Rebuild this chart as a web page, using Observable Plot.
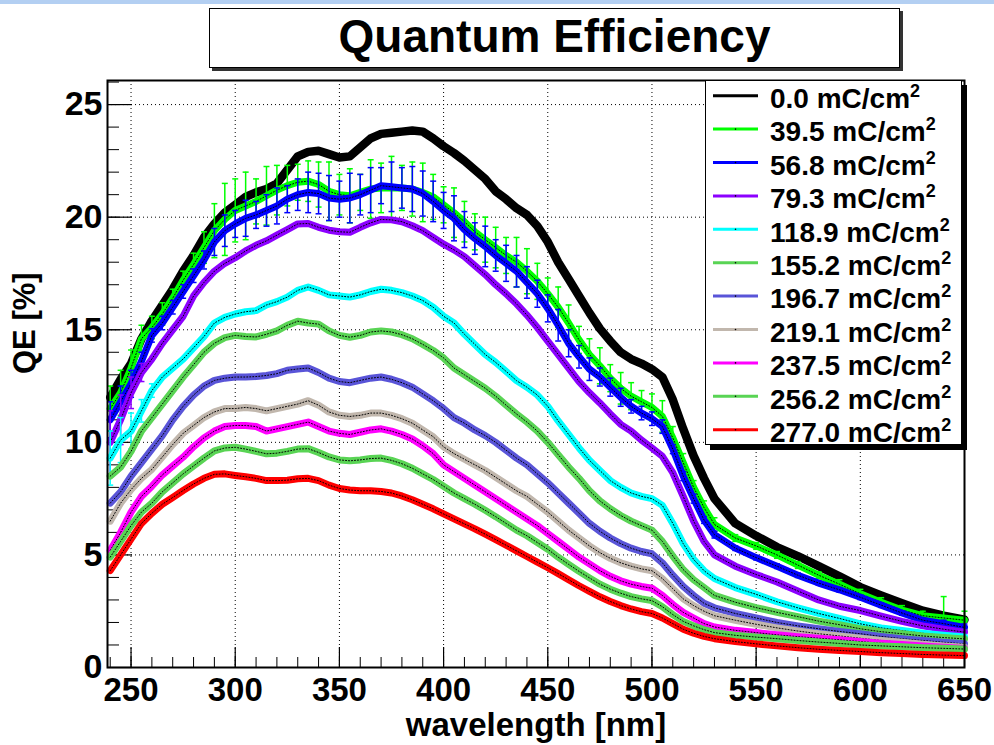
<!DOCTYPE html>
<html><head><meta charset="utf-8">
<script src="https://cdn.jsdelivr.net/npm/d3@7"></script>
<script src="https://cdn.jsdelivr.net/npm/@observablehq/plot@0.6"></script>
<style>
body{margin:0;background:#fff;font-family:"Liberation Sans",Arial,sans-serif;}
#wrap{position:relative;width:994px;height:745px;overflow:hidden;background:#fff;}
#topbar{position:absolute;left:0;top:0;width:994px;height:4px;background:#b3cff2;}
#title{position:absolute;left:209px;top:8px;width:689px;height:58px;border:1px solid #000;box-shadow:3px 3px 0 #333;background:#fff;text-align:center;font-weight:bold;font-size:46px;line-height:54px;color:#000;}
</style></head>
<body><div id="wrap"><div id="topbar"></div></div>
<script>
// wavelength grid [nm]
const wl = [240,245,250,255,260,265,270,275,280,285,290,295,300,305,310,315,320,325,330,335,340,345,350,355,360,365,370,375,380,385,390,395,400,405,410,415,420,425,430,435,440,445,450,455,460,465,470,475,480,485,490,495,500,505,510,515,520,525,530,540,550,560,570,580,590,600,610,620,630,640,650];

const qe000 = [12.0,12.8,13.5,14.6,15.4,16.1,16.8,17.6,18.3,19.1, 19.7,20.2,20.55,20.9,21.1,21.25,21.5,22.1,22.7,22.9, 22.95,22.8,22.65,22.7,23.1,23.5,23.7,23.75,23.8,23.85, 23.8,23.5,23.15,22.85,22.5,22.1,21.7,21.15,20.8,20.4, 20.1,19.6,18.9,18.0,17.25,16.5,15.75,15.05,14.5,14.0, 13.7,13.5,13.25,12.9,11.9,10.6,9.4,8.4,7.5, 6.4,5.85,5.35,4.95,4.5,4.05,3.57,3.2,2.85,2.52,2.3,2.12];
const qe395 = [11.5,12.2,13.3,14.6,15.1,15.7,16.4,17.2,17.9,18.65, 19.4,19.9,20.3,20.5,20.7,20.95,21.2,21.4,21.55,21.6, 21.45,21.15,21.0,20.95,21.1,21.25,21.3,21.3,21.3,21.25, 21.1,20.9,20.55,20.2,19.8,19.35,19.0,18.65,18.3,18.0, 17.6,17.15,16.6,16.0,15.3,14.55,13.9,13.4,12.85,12.4, 12.05,11.8,11.55,11.15,10.2,9.1,8.0,7.1,6.35, 5.75,5.4,5.0,4.55,4.1,3.7,3.27,2.9,2.55,2.3,2.2,2.1];
const qe568 = [11.0,11.8,12.6,13.6,14.75,15.3,16.0,16.7,17.4,18.1, 18.9,19.4,19.7,19.95,20.1,20.3,20.5,20.8,21.0,21.1, 21.05,20.85,20.8,20.85,21.0,21.2,21.4,21.35,21.3,21.25, 21.05,20.7,20.3,19.95,19.45,19.05,18.7,18.3,17.95,17.6, 17.1,16.6,15.95,15.2,14.4,13.8,13.25,12.9,12.45,12.0, 11.6,11.3,11.05,10.7,9.7,8.5,7.5,6.55,5.9, 5.3,4.88,4.5,4.1,3.75,3.45,3.12,2.77,2.42,2.1,1.95,1.78];
const qe793 = [10.0,11.0,12.2,13.1,13.7,14.4,15.0,15.6,16.5,17.1, 17.6,17.95,18.2,18.5,18.75,18.95,19.2,19.45,19.7,19.72, 19.55,19.42,19.35,19.33,19.55,19.75,19.9,19.88,19.8,19.62, 19.4,19.1,18.8,18.55,18.25,17.85,17.45,17.0,16.6,16.15, 15.65,15.1,14.5,13.9,13.3,12.7,12.2,11.75,11.26,10.8, 10.5,10.1,9.75,9.38,8.65,7.6,6.5,5.6,5.0, 4.5,4.13,3.8,3.4,3.0,2.72,2.53,2.28,2.05,1.85,1.7,1.57];
const qe1189 = [9.3,10.1,10.5,11.4,12.3,12.9,13.3,13.7,14.2,14.7, 15.3,15.55,15.7,15.8,15.85,16.1,16.25,16.45,16.75,16.9, 16.75,16.55,16.5,16.45,16.55,16.7,16.8,16.75,16.65,16.5, 16.3,16.0,15.6,15.3,14.8,14.35,13.9,13.55,13.15,12.74, 12.45,12.1,11.6,10.95,10.35,9.75,9.2,8.75,8.3,8.0, 7.75,7.6,7.5,7.2,6.4,5.5,4.8,4.3,3.95, 3.55,3.25,2.92,2.65,2.4,2.18,1.94,1.76,1.64,1.52,1.43,1.35];
const qe1552 = [8.5,8.9,9.6,10.5,11.1,11.7,12.3,12.9,13.45,14.0, 14.4,14.65,14.75,14.7,14.68,14.8,14.95,15.2,15.38,15.3, 15.25,14.95,14.75,14.67,14.75,14.9,14.95,14.9,14.78,14.6, 14.35,14.08,13.75,13.3,13.0,12.7,12.4,12.05,11.65,11.26, 10.9,10.5,10.0,9.45,8.9,8.4,7.85,7.4,7.05,6.75, 6.5,6.3,6.1,5.6,4.95,4.35,3.9,3.55,3.2, 2.9,2.66,2.45,2.26,2.06,1.9,1.72,1.59,1.5,1.4,1.33,1.27];
const qe1967 = [7.3,7.8,8.5,9.1,9.7,10.3,11.0,11.6,12.1,12.5, 12.75,12.85,12.9,12.9,12.92,12.97,13.05,13.2,13.26,13.3, 13.1,12.85,12.7,12.65,12.75,12.85,12.9,12.8,12.65,12.45, 12.15,11.85,11.5,11.1,10.85,10.55,10.3,10.0,9.65,9.3, 9.0,8.6,8.2,7.75,7.3,6.85,6.4,6.05,5.75,5.5, 5.3,5.15,5.05,4.65,4.1,3.6,3.2,2.85,2.65, 2.4,2.2,2.0,1.85,1.72,1.6,1.5,1.38,1.28,1.2,1.12,1.05];
const qe2191 = [6.5,7.3,7.9,8.4,8.8,9.35,9.9,10.4,10.75,11.1, 11.35,11.5,11.5,11.55,11.5,11.4,11.5,11.6,11.7,11.85, 11.65,11.35,11.2,11.15,11.2,11.3,11.3,11.2,11.05,10.85, 10.55,10.25,9.8,9.5,9.25,9.0,8.75,8.45,8.15,7.85, 7.6,7.25,6.9,6.5,6.1,5.75,5.4,5.1,4.85,4.65, 4.5,4.38,4.3,3.95,3.5,3.05,2.75,2.5,2.3, 2.1,1.92,1.76,1.62,1.5,1.4,1.3,1.2,1.12,1.03,0.96,0.9];
const qe2375 = [5.2,6.0,6.9,7.6,8.05,8.55,8.95,9.34,9.8,10.2, 10.5,10.7,10.75,10.75,10.7,10.5,10.6,10.7,10.8,10.9, 10.7,10.5,10.4,10.35,10.45,10.55,10.6,10.5,10.35,10.15, 9.85,9.5,9.0,8.7,8.4,8.1,7.8,7.5,7.2,6.9, 6.6,6.3,5.95,5.6,5.25,4.9,4.6,4.3,4.05,3.85, 3.7,3.6,3.52,3.2,2.8,2.45,2.2,1.95,1.8, 1.65,1.55,1.45,1.37,1.3,1.23,1.15,1.08,1.02,0.96,0.9,0.84];
const qe2562 = [4.9,5.6,6.3,6.9,7.3,7.8,8.2,8.6,8.95,9.3, 9.62,9.75,9.78,9.7,9.6,9.49,9.52,9.6,9.7,9.72, 9.55,9.35,9.22,9.18,9.22,9.28,9.3,9.2,9.05,8.85, 8.6,8.35,8.05,7.75,7.5,7.25,6.98,6.7,6.4,6.1, 5.85,5.55,5.25,4.9,4.58,4.27,3.98,3.7,3.48,3.3, 3.15,3.05,2.97,2.7,2.35,2.05,1.85,1.68,1.55, 1.43,1.35,1.28,1.2,1.13,1.07,1.0,0.96,0.92,0.88,0.85,0.82];
const qe2770 = [4.3,5.0,5.7,6.4,6.85,7.25,7.55,7.86,8.15,8.4, 8.58,8.6,8.53,8.47,8.4,8.3,8.3,8.32,8.38,8.4, 8.3,8.1,7.95,7.88,7.85,7.85,7.82,7.75,7.62,7.45, 7.25,7.05,6.82,6.6,6.38,6.16,5.92,5.68,5.43,5.18, 4.93,4.68,4.43,4.17,3.9,3.63,3.38,3.14,2.93,2.75, 2.6,2.48,2.4,2.2,1.95,1.7,1.52,1.38,1.28, 1.15,1.05,0.96,0.88,0.81,0.76,0.71,0.66,0.62,0.58,0.55,0.53];

// error bars (read where visible)
const err395 = [1.0,1.0,0.8,0.6,0.5,0.5,0.4,0.4,0.5,0.7, 1.2,1.6,1.4,1.5,1.0,1.3,1.1,0.9,0.8,0.9, 1.0,1.3,0.9,1.2,0.8,1.3,1.1,1.4,1.0,1.2, 1.3,1.0,0.8,1.1,0.9,0.8,1.0,0.9,0.8,1.1, 1.0,0.8,0.7,0.9,0.8,0.6,0.7,0.8,0.6,0.7, 0.6,0.5,0.6,0.7,0.5,0.4,0.3,0.3,0.3, 0.15,0.15,0.15,0.15,0.15,0.2,0.2,0.2,0.2,0.2,0.95,0.4];
const err568 = [0.8,0.7,0.6,0.4,0.3,0.3,0.3,0.3,0.3,0.4, 0.6,0.7,0.6,0.8,0.6,0.7,0.8,0.6,0.7,0.9, 0.9,1.0,0.8,1.1,0.9,1.0,0.8,1.1,0.9,1.0, 1.0,0.9,0.8,1.0,0.8,0.7,0.9,0.7,0.8,0.7, 0.7,0.6,0.6,0.7,0.6,0.5,0.5,0.4,0.4,0.4, 0.3,0.3,0.3,0.3,0.2,0.2,0.2,0.15,0.15, 0.1,0.1,0.1,0.1,0.1,0.1,0.1,0.1,0.1,0.1,0.15,0.15];
const err793 = [1.4,1.1,0.7,0.4,0,0,0,0,0,0, 0,0,0,0,0,0,0,0,0,0, 0,0,0,0,0,0,0,0,0,0, 0,0,0,0,0,0,0,0,0,0, 0,0,0,0,0,0,0,0,0,0, 0,0,0,0,0,0,0,0,0, 0,0,0,0,0,0,0,0,0,0,0,0];
const err1189 = [1.2,1.0,0.8,0.5,0.3,0,0,0,0,0, 0,0,0,0,0,0,0,0,0,0, 0,0,0,0,0,0,0,0,0,0, 0,0,0,0,0,0,0,0,0,0, 0,0,0,0,0,0,0,0,0,0, 0,0,0,0,0,0,0,0,0, 0,0,0,0,0,0,0,0,0,0,0,0];

const labels = ["0.0","39.5","56.8","79.3","118.9","155.2","196.7","219.1","237.5","256.2","277.0"];
const colors = ["#000000","#00ff00","#0000ff","#8c00ff","#00ffff","#59d454","#5954d8","#c1b7ad","#ff00ff","#59d454","#ff0000"];
const values = [qe000,qe395,qe568,qe793,qe1189,qe1552,qe1967,qe2191,qe2375,qe2562,qe2770];
const errors = [null,err395,err568,err793,err1189,null,null,null,null,null,null];

const xTicks = [250,300,350,400,450,500,550,600,650];
const xMinor = d3.range(240,651,10);
const yTicks = [0,5,10,15,20,25];
const yMinor = d3.range(0,27,1);
const xGrid = [250,300,350,400,450,500,550,600];
const yGrid = [5,10,15,20,25];

const W = 994, H = 745, mL = 107, mR = 30, mT = 80, mB = 78;
const fw = W - mL - mR, fh = H - mT - mB;

const cap = {draw(ctx, size){ const w = 3; ctx.moveTo(-w,0); ctx.lineTo(w,0); }};

const seriesMarks = [];
values.forEach((vals, k) => {
  const rows = wl.map((w, i) => ({w, v: vals[i], e: errors[k] ? errors[k][i] : 0}));
  seriesMarks.push(Plot.line(rows, {x: "w", y: "v", stroke: colors[k], strokeWidth: k === 0 ? 8.5 : 7, strokeLinejoin: "round"}));
  if (errors[k]) {
    const er = rows.filter(d => d.e > 0);
    seriesMarks.push(Plot.ruleX(er, {x: "w", y1: d => d.v - d.e, y2: d => d.v + d.e, stroke: colors[k], strokeWidth: 1.5}));
    seriesMarks.push(Plot.dot(er, {x: "w", y: d => d.v - d.e, symbol: cap, stroke: colors[k], strokeWidth: 1.5, r: 3}));
    seriesMarks.push(Plot.dot(er, {x: "w", y: d => d.v + d.e, symbol: cap, stroke: colors[k], strokeWidth: 1.5, r: 3}));
  }
  seriesMarks.push(Plot.line(rows, {x: "w", y: "v", stroke: "#000", strokeWidth: 1, strokeDasharray: "1,2"}));
});

const chart = Plot.plot({
  width: W, height: H,
  marginLeft: mL, marginRight: mR, marginTop: mT, marginBottom: mB,
  x: {domain: [238.7, 650], label: null},
  y: {domain: [0, 26.07], label: null},
  style: {fontFamily: "'Liberation Sans', Arial, sans-serif", background: "transparent", color: "#000", overflow: "visible"},
  marks: [
    Plot.gridX(xGrid, {stroke: "#000", strokeOpacity: 1, strokeDasharray: "1,3", strokeWidth: 1}),
    Plot.gridY(yGrid, {stroke: "#000", strokeOpacity: 1, strokeDasharray: "1,3", strokeWidth: 1}),
    Plot.tickX(xMinor, {x: d => d, insetTop: fh - 10, stroke: "#000", strokeWidth: 1}),
    Plot.tickX(xTicks, {x: d => d, insetTop: fh - 20, stroke: "#000", strokeWidth: 1.2}),
    Plot.tickY(yMinor, {y: d => d, insetRight: fw - 12, stroke: "#000", strokeWidth: 1}),
    Plot.tickY(yTicks, {y: d => d, insetRight: fw - 25, stroke: "#000", strokeWidth: 1.2}),
    ...seriesMarks,
    Plot.frame({stroke: "#000", strokeWidth: 2}),
    Plot.axisX(xTicks, {tickSize: 0, tickPadding: 10, fontSize: 33, fontWeight: "bold", label: null}),
    Plot.axisY(yTicks, {tickSize: 0, tickPadding: 5, fontSize: 34, fontWeight: "bold", label: null}),
    Plot.text(["wavelength [nm]"], {text: d => d, frameAnchor: "bottom", dy: 58, fontSize: 33, fontWeight: "bold", lineAnchor: "middle"}),
    Plot.text(["QE [%]"], {text: d => d, frameAnchor: "left", dx: -82, rotate: -90, fontSize: 31, fontWeight: "bold", lineAnchor: "middle"})
  ]
});
const wrap = document.getElementById("wrap");
chart.style.position = "absolute"; chart.style.left = "0px"; chart.style.top = "0px";
wrap.appendChild(chart);

// title box
const t = document.createElement("div");
t.id = "title"; t.textContent = "Quantum Efficiency";
wrap.appendChild(t);

// legend
const leg = d3.select(wrap).append("svg").attr("width", W).attr("height", H)
  .style("position", "absolute").style("left", "0px").style("top", "0px");
leg.append("rect").attr("x", 710).attr("y", 85).attr("width", 257).attr("height", 365).attr("fill", "#000");
leg.append("rect").attr("x", 705.5).attr("y", 80.5).attr("width", 256).attr("height", 364).attr("fill", "#fff").attr("stroke", "#000").attr("stroke-width", 1);
labels.forEach((lab, i) => {
  const y = 95.7 + i * 33.4;
  leg.append("line").attr("x1", 713).attr("x2", 758).attr("y1", y).attr("y2", y).attr("stroke", colors[i]).attr("stroke-width", 3);
  leg.append("circle").attr("cx", 735.5).attr("cy", y).attr("r", 0.8).attr("fill", "#000");
  const tx = leg.append("text").attr("x", 770).attr("y", y + 12.3)
    .attr("font-family", "'Liberation Sans', Arial, sans-serif").attr("font-weight", "bold").attr("font-size", 28).attr("fill", "#000");
  tx.append("tspan").text(lab + " mC/cm");
  tx.append("tspan").attr("font-size", 18).attr("dy", -11).text("2");
});
</script>
</body></html>
